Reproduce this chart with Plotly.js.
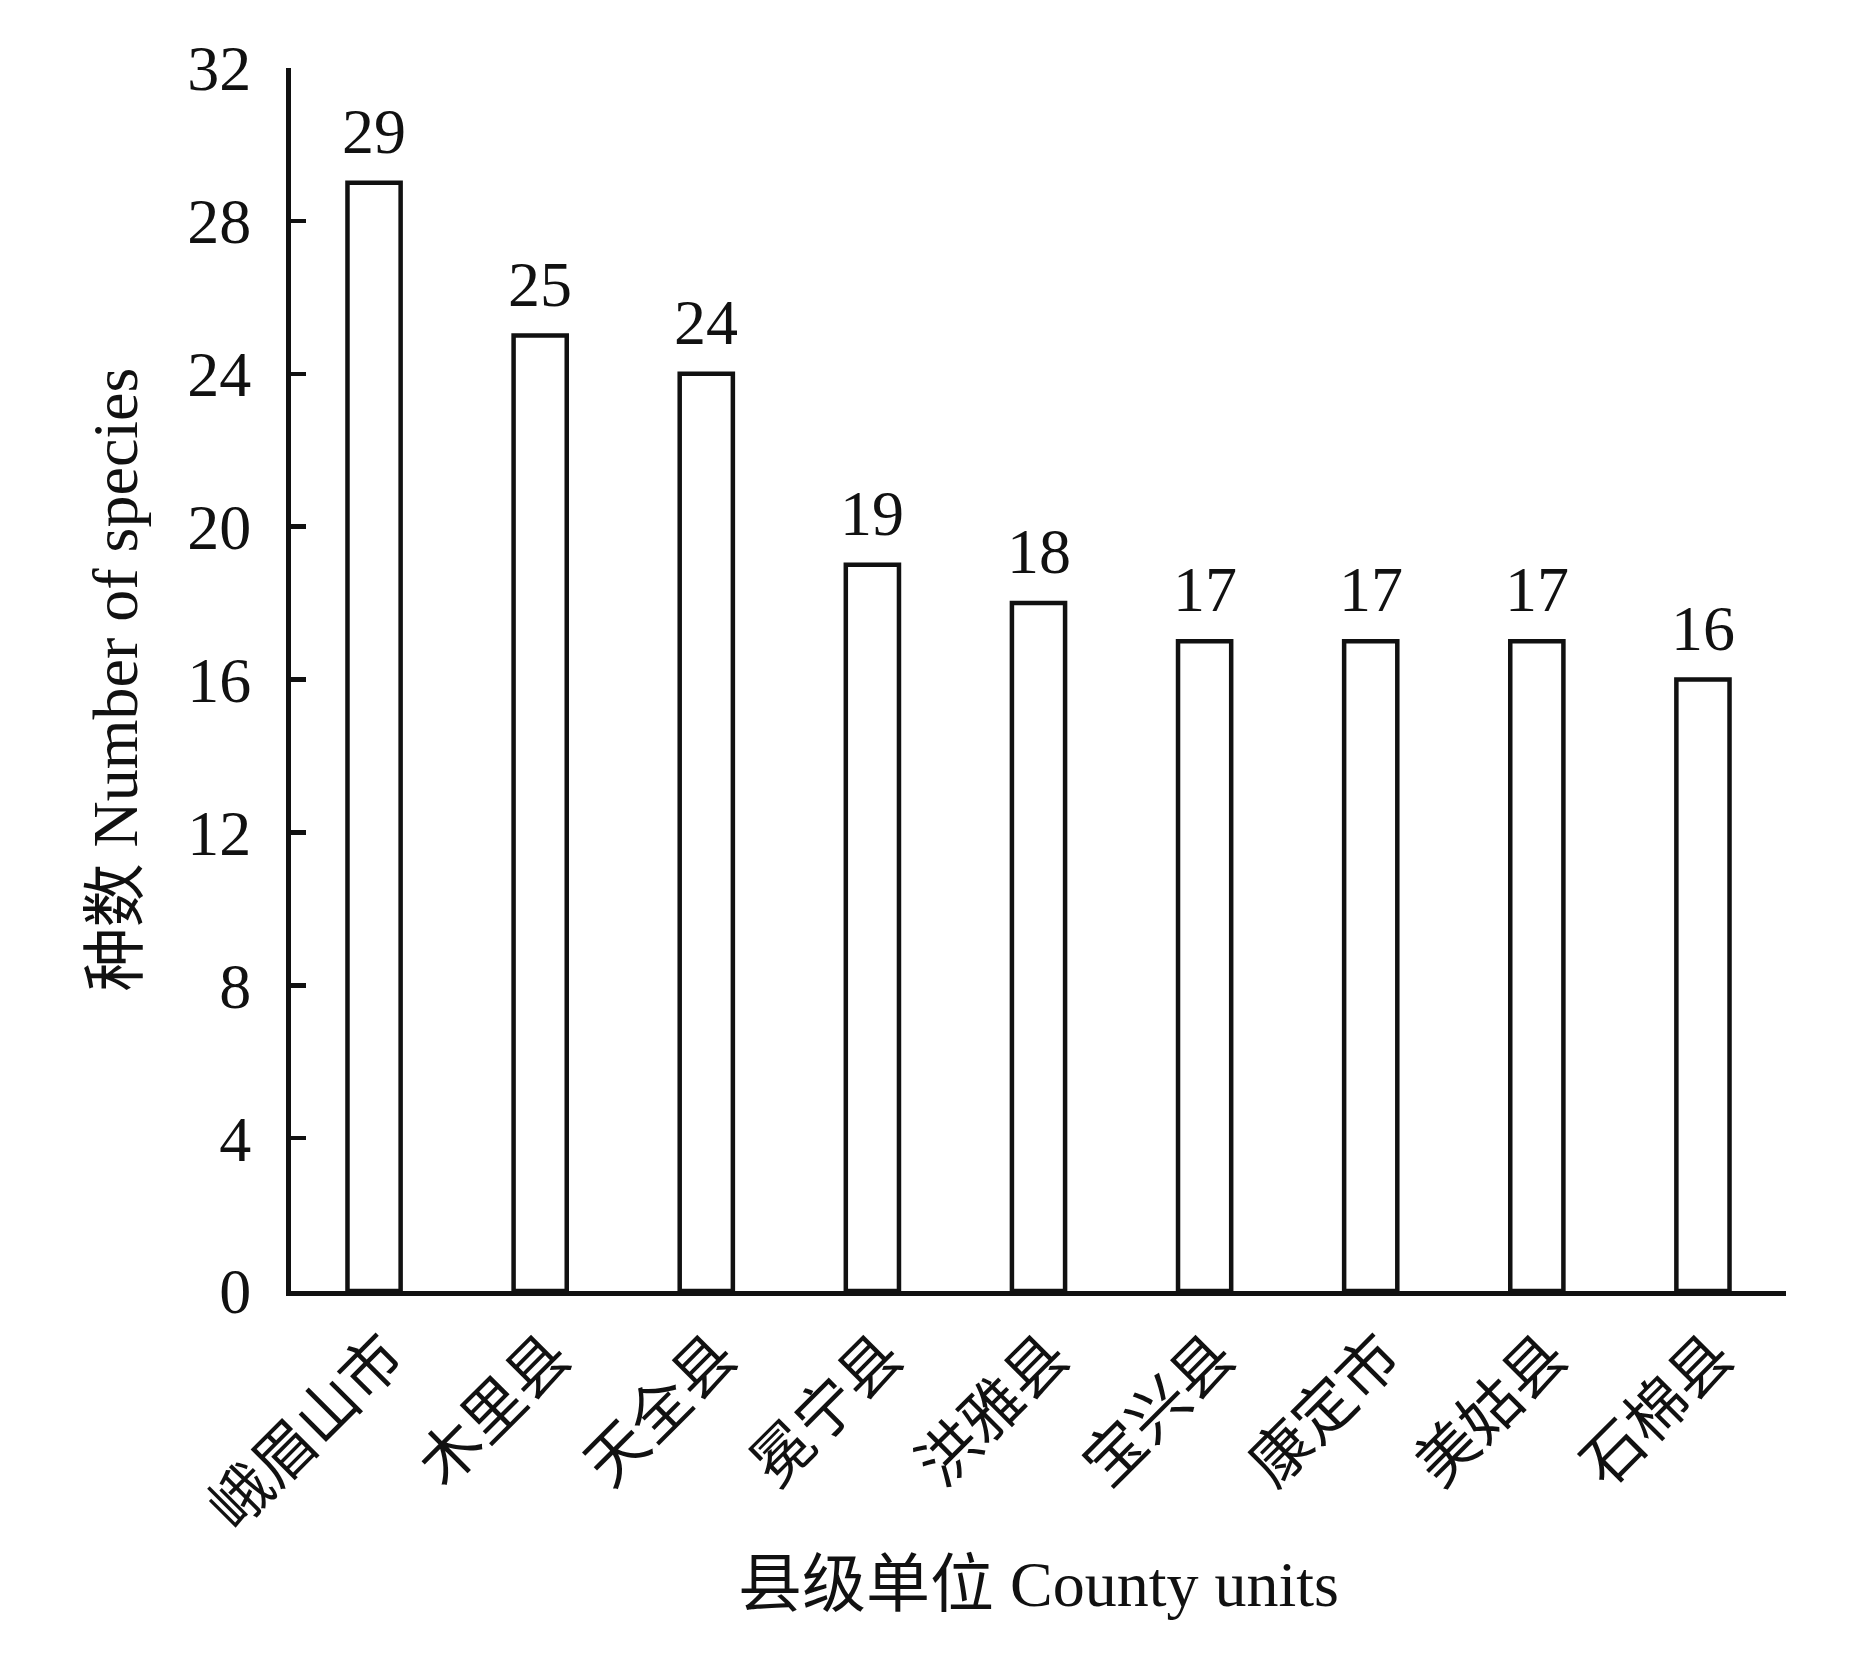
<!DOCTYPE html>
<html>
<head>
<meta charset="utf-8">
<script src="https://cdn.plot.ly/plotly-3.0.1.min.js"></script>
<style>html,body{margin:0;padding:0;background:#fff;}</style>
</head>
<body>
<div id="chart" style="width:1866px;height:1654px;"></div>
<script>
const counties = ['峨眉山市','木里县','天全县','冕宁县','洪雅县','宝兴县','康定市','美姑县','石棉县'];
const speciesCounts = [29,25,24,19,18,17,17,17,16];
const yTicks = [0,4,8,12,16,20,24,28,32];

const serif = 'Liberation Serif, Times New Roman, Noto Sans CJK SC, serif';
const ink = '#111111';

const trace = {
  type: 'bar',
  x: counties,
  y: speciesCounts,
  width: 0.32,
  marker: {color: '#ffffff', line: {color: ink, width: 4.5}},
  hoverinfo: 'x+y'
};

const annotations = counties.map((c, i) => ({
  x: c, y: speciesCounts[i], xref: 'x', yref: 'y',
  text: String(speciesCounts[i]), showarrow: false,
  yanchor: 'bottom', xanchor: 'center', yshift: 14,
  font: {family: serif, size: 64, color: ink}
}));

const layout = {
  width: 1866, height: 1654,
  margin: {l: 291, r: 80, t: 68, b: 363},
  paper_bgcolor: '#ffffff', plot_bgcolor: '#ffffff',
  showlegend: false,
  bargap: 0,
  xaxis: {
    type: 'category',
    range: [-0.5, 8.5],
    showline: true, linecolor: ink, linewidth: 5,
    ticks: '', showgrid: false, zeroline: false,
    tickangle: -45,
    ticklabelshift: 12,
    ticklabelstandoff: 0,
    tickfont: {family: 'Noto Sans CJK SC, sans-serif', size: 61, color: ink},
    title: {text: '县级单位 County units', font: {family: serif, size: 64, color: ink}, standoff: 18}
  },
  yaxis: {
    range: [0, 32],
    tickvals: yTicks,
    ticktext: yTicks.map(String),
    showline: true, linecolor: ink, linewidth: 5,
    ticks: 'inside', ticklen: 15, tickwidth: 4.5, tickcolor: ink,
    showgrid: false, zeroline: false,
    ticklabelstandoff: 22,
    tickfont: {family: serif, size: 64, color: ink},
    title: {text: '种数 Number of species', font: {family: serif, size: 64, color: ink}, standoff: 30}
  },
  annotations: annotations
};

Plotly.newPlot('chart', [trace], layout, {displayModeBar: false, staticPlot: true});
</script>
</body>
</html>
